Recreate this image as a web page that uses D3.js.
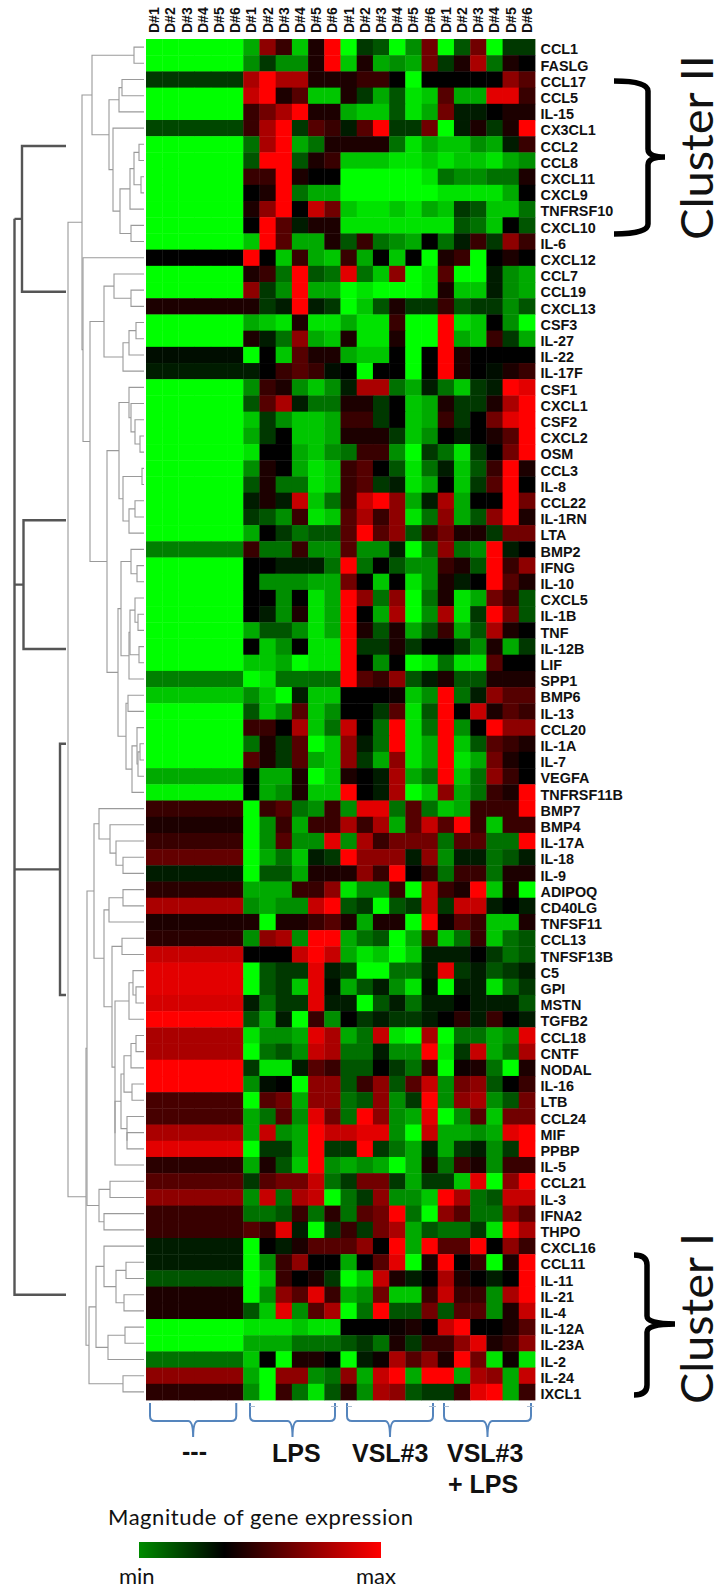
<!DOCTYPE html>
<html><head><meta charset="utf-8">
<script src="https://cdn.jsdelivr.net/npm/d3@7"></script>
<style>html,body{margin:0;padding:0;background:#fff}svg{display:block}</style>
</head><body><div id="chart"></div>
<script>
const genes=["CCL1","FASLG","CCL17","CCL5","IL-15","CX3CL1","CCL2","CCL8","CXCL11","CXCL9","TNFRSF10","CXCL10","IL-6","CXCL12","CCL7","CCL19","CXCL13","CSF3","IL-27","IL-22","IL-17F","CSF1","CXCL1","CSF2","CXCL2","OSM","CCL3","IL-8","CCL22","IL-1RN","LTA","BMP2","IFNG","IL-10","CXCL5","IL-1B","TNF","IL-12B","LIF","SPP1","BMP6","IL-13","CCL20","IL-1A","IL-7","VEGFA","TNFRSF11B","BMP7","BMP4","IL-17A","IL-18","IL-9","ADIPOQ","CD40LG","TNFSF11","CCL13","TNFSF13B","C5","GPI","MSTN","TGFB2","CCL18","CNTF","NODAL","IL-16","LTB","CCL24","MIF","PPBP","IL-5","CCL21","IL-3","IFNA2","THPO","CXCL16","CCL11","IL-11","IL-21","IL-4","IL-12A","IL-23A","IL-2","IL-24","IXCL1"];
const donors=["D#1","D#2","D#3","D#4","D#5","D#6"];
const groupNames=["---","LPS","VSL#3","VSL#3 + LPS"];
// expression, -9 (min) .. 0 .. 9 (max)
const control=[-9,-9,-2,-9,-9,-2.5,-9,-9,-9,-9,-9,-9,-9,0,-9,-9,1,-9,-9,-0.3,-1,-9,-9,-9,-9,-9,-9,-9,-9,-9,-9,-4.5,-9,-9,-9,-9,-9,-9,-9,-4.5,-7,-9,-9,-9,-9,-6,-8.5,2,1,2,3.5,-1,1.5,6,1,1.5,7,8,8,7.5,9,6,6,9,9,2.5,2.5,6,8,1.5,3,5,2,2,-1,-1,-3,1,1,-9,-9,-4,5,1.5];
const lps=[[-6,5,2,-7,1,9],[-5,-2,-5,-5,1,9],[6,9,6,6,1,1],[7,9,1,3,-7,-7],[2,4,6,9,1,1],[2,6,9,-2,3,2],[-4,6,9,-6,-4,1],[-3,9,9,-3,1,2],[2,2,9,1,0,0],[0,1,9,-4,-6,-6],[1,5,9,0,7,4],[0,9,3,-1,1,1],[-7,9,3,-6,-6,1],[9,0,-7,2,-6,-7],
[1,2,-4,9,-3,-4],[5,-2,-5,9,-6,-6],[1,-2,-1,9,-1,-2],[-6,-7,-8,1,-8,-8],[1,-1,-4,5,-6,-7],[-9,0,-7,3,1,1],[-1,0,2,3,2,-0.5],[-5,2,1,-5,-7,-5],[-3,3,6,-1,-4,-4],[-7,-2,-5,-7,-7,-6],[-6,-2,0,-7,-7,-6],[-8,0,0,-6,-7,-5],[-5,1,0,-6,-8,-7],[-3,1,-4,-4,-8,-7],[-1,1,-1,7,-7,-4],[-2,-3,-5,2,-8,-7],
[-6,0,-2,-4,-3,-3],[2,-4,-4,2,-5,-5],[0,0,-1,-1,-1,-4],[0,-5,-5,-5,-6,-6],[0,0,-5,0,-8,-6],[0,-1,-5,1,-8,-6],[-6,-3,-3,-5,-8,-6],[0,-7,-5,0,-8,-8],[-7,-7,-6,-9,-8,-8],[-9,-8,-4,-4,-4,-4],[-5,-7,-9,-1,-7,-7],[-3,-7,-5,3,-7,-5],[2,2,0,6,-7,-4],[-4,1,-2,3,-9,-7],[3,1,-2,3,-6,-7],[0,-6,-6,1,-9,-7],[0,-6,-5,1,-7,-7],
[-9,2,3,-4,-5,2],[-9,-5,2,-6,2,2],[-9,-5,3,-5,-5,8],[-9,-6,-4,-7,-1,-2],[-9,-3,-3,-6,1,1],[-6,-6,-6,2,2,5],[-5,-6,-5,-5,7,9],[1,-9,1,1,2,3],[-5,5,6,-5,9,9],[0,0,0,7,9,7],[-9,-3,-2,-2,8,-1],[-9,-3,-2,-7,8,-0.5],[-1,-4,-2,-2,8,-1],[-3,-6,-1,-9,2,-5],[-8,-5,-5,-6,8,6],
[-9,-4,-3,-5,7,6],[-2,-8,-8,-1,3,2],[-5,-0.5,0,-9,5,5],[-9,3,4,-6,5,5],[-6,-4,3,-5,8,4],[-6,7,-5,-6,9,7],[-9,-2,-2,-6,9,-2],[-6,1,-3,-7,9,-5],[-2,3,4,4,7,-4],[-5,7,-4,6,7,-9],[-4,-4,-3,2,-4,1.5],[3,2,8,-1,-9,-2],[-9,0,-1,1,3,3],[-9,-5,2,5,0,0],[-9,-7,2,0,1,-2],[-9,-5,5,3,8,2],[-3,-7,8,-5,3,6],[-8,-8,-8,-7,-8,-8],[-6,-6,-6,-4,-4,-4],[-7,0,-9,1,1,0],[-6,-9,5,5,-5,-4],[-5,-9,2,-4,-8,-3]];
const vsl=[[-9,-2,-3,-9,-5,4],[-7,1,-6,-5,-6,4],[1,2,2,0,-9,0],[1,-2,-6,-3,-8,-7],[-6,-7,-7,-3,-8,-6],[-1,3,9,-2,-2,4],[1,1,1,-4,-8,-6],[-7,-7,-7,-8,-8,-7],[-9,-9,-9,-9,-9,-8],[-9,-9,-9,-9,-9,-9],[-7,-8,-8,-7,-8,-6],[-8,-8,-8,-8,-8,-8],[-3,2,-4,-5,-6,0],[2,-6,0,-7,0,-9],
[8,-4,-7,5,-9,-8],[-9,-8,-9,-9,-9,-8],[-9,-7,-3,1,-2,-2],[-6,-8,-8,2,-9,-9],[1,-8,-8,1,-9,-9],[-6,-7,-7,0,-9,0],[0,-9,0,0,-9,0],[-1,6,6,-4,-6,-1],[1,1,-2,0,-7,-6],[2,2,-2,0,-7,-6],[1,1,1,-2,-7,-5],[-4,2,2,-5,-9,-2],[2,3,0,-3,-8,-4],[2,3,-2,-1,-8,-6],[2,7,9,5,-6,-1],[3,6,2,5,-8,-4],
[3,9,3,5,-3,2],[3,-5,-5,-1,-9,-4],[9,-4,0,-3,-5,-5],[4,0,-7,0,-8,-5],[9,5,-4,5,-9,-4],[9,0,-6,6,-9,-5],[9,1,-3,1,-6,-3],[9,-2,-2,1,-2,0],[9,0,-5,0,-9,-8],[9,3,2,5,-3,-1],[0,0,0,0.5,-7,-5],[0,0,-2,3,-8,-3],[7,0,-4,9,-8,-4],[5,-1,-4,9,-8,-6],[5,-2,-6,5,-8,-6],[1,0,-1,6,-6,-4],[9,0,-1,6,-9,-7],
[-5,8,8,-4,3,-4],[6,2,6,-6,3,7],[-5,6,2,4,4,4],[9,5,5,5,-1,5],[1,5,2,9,0,2],[-8,-5,-5,2,-9,7],[-3,-2,-9,-3,-2,7],[1,-6,1,1,-9,9],[-6,-4,-3,-9,-6,3],[-6,-8,-7,-9,-7,-1],[-2,-9,-9,-4,-4,-1],[-6,-3,-1,-5,-8,-0.5],[-1,-9,-3,-1,-4,-1],[0,-2,-1,-2,-2,-1],[-6,-4,7,-8,-9,6],
[-4,-4,-1,-5,-5,9],[-3,-3,0,-2,-4,2],[-3,2,5,-3,3,7],[-4,-3,5,-5,-2,9],[-4,9,5,-5,-6,8],[7,8,8,-5,-9,7],[-2,9,-2,-4,-6,-1],[-6,-5,-6,-9,-6,1],[-2,4,4,-2,-6,-2],[-4,-2,5,-5,-5,-7],[-4,3,4,9,-4,-9],[2,-2,4,6,-6,-3],[3,5,0,9,-6,9],[-6,0,3,8,-9,1],[-9,-7,7,1,-1,0],[-6,-5,4,-7,-7,2],[-9,-4,9,-3,-3,4],[0,0,0,0.5,1,0],[-3,-2,-4,1,-2,2],[-9,-1,0.5,6,3,5],[5,-6,7,9,-6,9],[1.5,-5,6,5,-3,-2]];
const vslLps=[[-9,-3,4,-9,-2,-2],[-2,1,6,-4,1,0],[0,0,0,0,5,3],[3,-6,-6,8,8,2],[4,-1,-1,0,1,1],[-9,-1,1,-2,1,9],[-7,-7,-5,-6,-1,2],[-8,-7,-7,-8,-6,-5],[-4,-5,-5,-4,-4,1],[-8,-8,-8,-8,-6,0],[-7,-2,-3,-7,-7,-4],[-8,-3,-4,-7,0,-3],[-4,-1,2,-2,5,2],[1,2,-9,0,1,0],
[3,-9,-9,-1,-5,-6],[1,-7,-7,-1,-5,-6],[2,-3,-2,-2,-5,-3],[9,-8,-7,0,-5,-9],[9,-6,-7,2,-2,-6],[9,1,0,0,0,0],[9,1,0,-0.5,1,2],[-4,-7,-2,-1,9,8],[1,-2,-2,1,6,9],[2,-2,0,4,8,9],[0,-1,0,1,3,9],[-4,-8,-2,0,4,9],[-1,-7,-3,2,9,1],[0,-7,-2,3,9,0],[6,-6,0,0,9,4],[5,-6,-3,5,9,1],
[4,1,1,-2,4,4],[5,-4,-5,9,-1,0],[2,1,-3,9,2,5],[1,-1,0,9,3,1],[1,-8,-6,4,2,-3],[6,-8,-2,9,4,-3],[2,-6,-3,6,1,0],[0,-2,-5,1,-6,-2],[-4,-8,-8,3,0,0],[1,-3,-3,1,1,1],[9,-4,-1,5,3,3],[9,0,7,1,3,2],[9,-5,0,9,5,5],[9,-7,-3,3,2,1],[9,-8,-6,4,1,0],[9,-7,-4,5,2,0],[5,-6,-4,2,1,9],
[-7,-6,2,2,2,9],[3,9,2,-7,2,2],[-4,3,3,-4,-4,9],[-5,-1,-1,-4,-3,-1],[-4,2,2,-4,1,1],[2,1,9,-7,1,-9],[-2,7,7,-1,0,-1],[0.5,3,2,-7,-7,1],[-7,-4,2,-7,-4,-3],[-1,-1,0,-2,-4,-3],[8,-2,-1,-3,-2,-1],[-9,-1,-1,-8,-4,-2],[-1,0,-1,-1,-1,-3],[0,1.5,-1,2,0,-1],[-9,-4,-4,-6,-5,8],
[-8,-2,7,-6,-4,6],[-9,0.5,1,-4,-9,1],[-5,4,5,-3,0,2],[-5,5,6,-5,-3,4],[-9,-5,3,-7,4,4],[-6,-6,-5,-6,8,9],[-6,-2,-1,-5,-2,9],[-4,2,1,-5,2,2],[-2,-7,8,-9,5,9],[9,6,-4,-3,7,7],[5,3,-4,-4,5,3],[-4,-4,-2,-8,9,6],[3,3,9,0,5,2],[9,0,2,-9,1,9],[6,1,0,-1,0,9],[7,2,2,-5,6,9],[-3,3,3,-5,1,7],[7,9,0,0,1,3],[2,5,8,1,2,5],[1,9,4,-8,0.5,-8],[9,-6,6,5,-6,7],[-2,2,8,9,-6,2]];
// dendrogram: [mergeHeight, left, right]; a number is a 1-based row
const n=(h,a,b)=>[h,a,b];
const treeX=n(24,n(14,n(10,n(5,7,8),n(3,9,10)),11),n(13,12,13));
const treeA=n(52,n(10,1,2),n(35,n(25,n(22,3,4),5),n(31,6,treeX)));
const treeB1=n(40,n(30,15,n(13,16,17)),n(21,n(15,n(8,18,19),20),21));
const treeP=n(25,n(15,22,n(13,23,n(9,24,n(4,25,26)))),n(21,n(2,27,28),n(15,n(9,29,30),31)));
const treeQ1=n(23,n(13,32,n(7,33,34)),n(15,n(14,n(9,35,n(6,36,37)),n(5,38,39)),40));
const treeQ2=n(18,n(16,41,42),n(12,n(7,43,n(6,n(4,44,45),46)),47));
const treeB=n(54,treeB1,n(37,treeP,n(26,treeQ1,treeQ2)));
const treeUp=n(57,n(50,n(45,48,n(34,49,n(28,50,n(21,51,52)))),n(40,n(35,n(21,53,54),55),n(32,n(22,56,57),n(29,n(15,n(11,58,n(8,59,60)),61),n(29,n(23,n(20,n(13,n(8,62,63),64),n(12,65,66)),n(17,67,n(17,68,69))),70))))),n(45,n(34,71,72),n(40,73,74)));
const treeLow=n(55,n(48,n(40,75,n(28,n(18,76,77),n(20,78,79))),n(36,n(19,80,81),82)),n(21,83,84));
const treeRoot=n(76,n(62,treeA,n(61,14,treeB)),n(58,treeUp,treeLow));
// overview branches: [row top, row bottom, height]
const overviewBranches=[[6.6,15.6,122],[29.7,37.65,120.5],[43.5,59,84]];
const overviewLast=77.6, overviewRootHeight=129.5, overviewEnd=78;

const W=722,H=1591;
const svg=d3.select("#chart").append("svg").attr("width",W).attr("height",H).attr("viewBox",[0,0,W,H]);
const sans="'Liberation Sans',Arial,sans-serif", soft="Lato,'Open Sans',sans-serif";
const defs=svg.append("defs");
defs.append("filter").attr("id","soft").attr("x",0).attr("y",0).attr("width",1).attr("height",1)
  .append("feGaussianBlur").attr("stdDeviation",0.55);

const columns=d3.range(24), rows=d3.range(84);
const x=d3.scaleBand().domain(columns).range([146,535]);
const y=d3.scaleBand().domain(rows).range([39,1400]);
const color=d3.scaleLinear().domain([-9,0,9]).range(["#00ff00","#000000","#ff0000"]).clamp(true);
const value=(r,c)=>c<6?control[r]:c<12?lps[r][c-6]:c<18?vsl[r][c-12]:vslLps[r][c-18];

const cells=rows.flatMap(r=>columns.map(c=>({r,c,v:value(r,c)})));
svg.append("g").attr("filter","url(#soft)").selectAll("rect").data(cells).join("rect")
  .attr("x",d=>x(d.c)).attr("y",d=>y(d.r)).attr("width",x.bandwidth()+.4).attr("height",y.bandwidth()+.4)
  .attr("fill",d=>color(d.v));

// labels
svg.append("g").selectAll("text").data(columns).join("text")
  .attr("transform",c=>`translate(${x(c)+x.bandwidth()/2+5},33) rotate(-90)`)
  .attr("font-family",sans).attr("font-weight",700).attr("font-size",14).attr("fill","#111")
  .text(c=>donors[c%6]);
svg.append("g").selectAll("text").data(rows).join("text")
  .attr("x",540.5).attr("y",r=>y(r)+y.bandwidth()/2+7.2)
  .attr("font-family",sans).attr("font-weight",700).attr("font-size",14.4).attr("fill","#111")
  .text(r=>genes[r]);

// dendrogram
const rowY=r=>y(0)+y.step()*(r-.5);
const hx=d3.scaleLinear().domain([0,130]).range([144,14]);
const root=d3.hierarchy(treeRoot,d=>Array.isArray(d)?[d[1],d[2]]:null);
root.eachAfter(d=>{
  if(d.children){d.py=(d.children[0].py+d.children[1].py)/2;d.px=hx(d.data[0]);}
  else{d.py=rowY(d.data);d.px=hx(0);}
});
const dg=svg.append("g").attr("fill","none").attr("stroke","#9a9a9a").attr("stroke-width",1.1);
dg.selectAll("path").data(root.descendants().filter(d=>d.children)).join("path")
  .attr("d",d=>{
    const [a,b]=d.children,p=d3.path();
    p.moveTo(a.px,a.py);p.lineTo(d.px,a.py);p.lineTo(d.px,b.py);p.lineTo(b.px,b.py);return p.toString();
  });
// thick overview
const og=svg.append("g").attr("fill","none").attr("stroke","#555").attr("stroke-width",2.4);
const rootX=hx(overviewRootHeight), overRight=hx(78);
const mid=b=>(rowY(b[0]+.5)+rowY(b[1]+.5))/2;
og.append("path").attr("d",()=>{const p=d3.path();p.moveTo(overRight,rowY(overviewEnd));p.lineTo(rootX,rowY(overviewEnd));p.lineTo(rootX,mid(overviewBranches[0]));return p.toString();});
og.selectAll(".b").data(overviewBranches).join("path").attr("class","b")
  .attr("d",b=>{const p=d3.path(),h=hx(b[2]);
    p.moveTo(overRight,rowY(b[0]+.5));p.lineTo(h,rowY(b[0]+.5));p.lineTo(h,rowY(b[1]+.5));p.lineTo(overRight,rowY(b[1]+.5));
    p.moveTo(h,mid(b));p.lineTo(rootX,mid(b));return p.toString();});

// group braces
const braceBlue="#5585bd";
const groupBraces=[{from:0,to:5,l:4,r:-7},{from:6,to:11,l:6.75,r:-5.5},{from:12,to:17,l:6.5,r:-4.75},{from:18,to:23,l:6.25,r:-4}];
const brace=(x0,x1,yTop,yLine,yEnd,r)=>{const c=(x0+x1)/2,p=d3.path();
  p.moveTo(x0,yTop);p.lineTo(x0,yLine-r);p.quadraticCurveTo(x0,yLine,x0+r,yLine);
  p.lineTo(c-r,yLine);p.quadraticCurveTo(c,yLine,c,yEnd);p.quadraticCurveTo(c,yLine,c+r,yLine);
  p.lineTo(x1-r,yLine);p.quadraticCurveTo(x1,yLine,x1,yLine-r);p.lineTo(x1,yTop);return p.toString();};
svg.append("g").attr("fill","none").attr("stroke",braceBlue).attr("stroke-width",2)
  .selectAll("path").data(groupBraces).join("path")
  .attr("d",g=>brace(x(g.from)+g.l,x(g.to)+x.bandwidth()+g.r,1403,1421,1437,5));
// faint leftover ticks at brace ends
svg.append("g").attr("fill","none").attr("stroke","#a9bcd2").attr("stroke-width",1)
  .selectAll("path").data(groupBraces.slice(1)).join("path")
  .attr("d",g=>{const p=d3.path(),a=x(g.from)+g.l,b=x(g.to)+x.bandwidth()+g.r;
    p.moveTo(a,1406.5);p.lineTo(a+5,1406.5);p.moveTo(b-4,1406.5);p.lineTo(b+3,1406.5);return p.toString();});

// group labels
const gl=svg.append("g").attr("font-family",sans).attr("font-weight",700).attr("font-size",25).attr("fill","#111");
gl.append("text").attr("x",182).attr("y",1460).text(groupNames[0]);
gl.append("text").attr("x",272).attr("y",1462).text(groupNames[1]);
gl.append("text").attr("x",352).attr("y",1462).text(groupNames[2]);
gl.append("text").attr("x",447).attr("y",1462).text(groupNames[3].split(" + ")[0]);
gl.append("text").attr("x",448).attr("y",1493).text("+ "+groupNames[1]);

// colour key
const grad=defs.append("linearGradient").attr("id","key");
const keyStops=[-4.9,0,9];
grad.selectAll("stop").data(keyStops).join("stop")
  .attr("offset",v=>(v-keyStops[0])/(keyStops[2]-keyStops[0])).attr("stop-color",v=>color(v));
const keyScale=d3.scaleLinear().domain([keyStops[0],keyStops[2]]).range([139,381]);
svg.append("rect").attr("x",keyScale(keyStops[0])).attr("y",1542).attr("width",keyScale.range()[1]-keyScale.range()[0]).attr("height",16).attr("fill","url(#key)");
const kt=svg.append("g").attr("font-family",soft).attr("fill","#111");
kt.append("text").attr("x",108).attr("y",1525).attr("font-size",22).attr("textLength",305).text("Magnitude of gene expression");
kt.append("text").attr("x",119).attr("y",1584).attr("font-size",22).text("min");
kt.append("text").attr("x",356).attr("y",1584).attr("font-size",22).text("max");

// cluster annotations
const ct=svg.append("g").attr("font-family",soft).attr("fill","#111").attr("font-size",45).attr("font-weight",400);
ct.append("text").attr("transform","translate(713,240) rotate(-90)").attr("textLength",185).attr("lengthAdjust","spacingAndGlyphs").text("Cluster II");
ct.append("text").attr("transform","translate(713,1404) rotate(-90)").attr("textLength",171).attr("lengthAdjust","spacingAndGlyphs").text("Cluster I");
const clusterBraces=[{x0:614,xv:648,xt:665,y0:81,ym:157,y1:234},{x0:634,xv:647,xt:675,y0:1255,ym:1324,y1:1395}];
svg.append("g").attr("fill","none").attr("stroke","#000").attr("stroke-width",5.5).attr("stroke-linecap","butt")
  .selectAll("path").data(clusterBraces).join("path")
  .attr("d",b=>{const p=d3.path();
    p.moveTo(b.x0,b.y0);p.quadraticCurveTo(b.xv,b.y0,b.xv,b.y0+10);p.lineTo(b.xv,b.ym-8);
    p.quadraticCurveTo(b.xv,b.ym,b.xt,b.ym);p.quadraticCurveTo(b.xv,b.ym,b.xv,b.ym+8);
    p.lineTo(b.xv,b.y1-10);p.quadraticCurveTo(b.xv,b.y1,b.x0,b.y1);return p.toString();});
</script></body></html>
